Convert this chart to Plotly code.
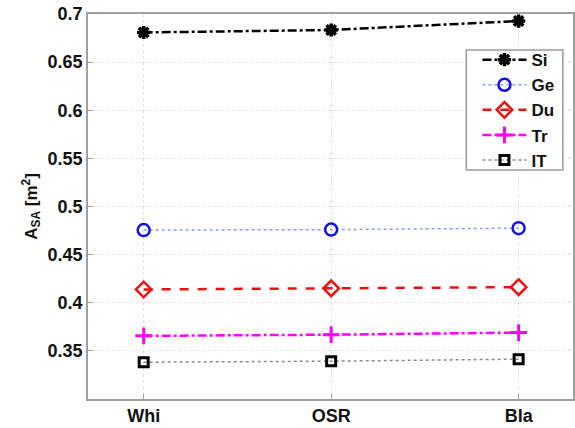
import plotly.graph_objects as go

categories = ["Whi", "OSR", "Bla"]
si = [0.6808, 0.6834, 0.6927]
ge = [0.4755, 0.4760, 0.4775]
du = [0.4138, 0.4150, 0.4162]
tr = [0.3656, 0.3668, 0.3690]
it = [0.3382, 0.3393, 0.3414]
y_ticks = [0.35, 0.4, 0.45, 0.5, 0.55, 0.6, 0.65, 0.7]

xs = [0, 1, 2]
fig = go.Figure()

def add(name, y, color, lcolor, dash, lw, symbol, msize, mlw):
    fig.add_trace(go.Scatter(
        x=xs, y=y, name=name, mode="lines+markers",
        line=dict(color=lcolor, dash=dash, width=lw),
        marker=dict(symbol=symbol, size=msize, color=color,
                    line=dict(color=color, width=mlw)),
    ))

add("Si", si, "black", "black", "dashdot", 2.5, "asterisk-open", 11, 3.5)
add("Ge", ge, "#1010ee", "#8f9cf0", "dot", 1.5, "circle-open", 12, 2.5)
add("Du", du, "#ee1010", "#ee1010", "dash", 2.5, "diamond-open", 12, 2.5)
add("Tr", tr, "#ff00ff", "#ff00ff", "dashdot", 2.5, "cross-thin-open", 12, 3)
add("IT", it, "black", "#8a8a8a", "dot", 1.5, "square-open", 9, 3)

bold = dict(family="Liberation Sans, Arial", size=18, color="#111111", weight="bold")
fig.update_layout(
    width=575, height=428,
    margin=dict(l=88, r=0, t=14, b=29),
    plot_bgcolor="white", paper_bgcolor="white",
    font=bold,
    showlegend=True,
    legend=dict(x=0.803, y=0.927, xanchor="left", yanchor="top",
                borderwidth=0, bgcolor="rgba(0,0,0,0)",
                font=dict(size=17, family="Liberation Sans, Arial", color="#111111", weight="bold"),
                tracegroupgap=0, itemwidth=44),
    shapes=[dict(type="rect", xref="paper", yref="paper",
                 x0=0.780, x1=0.979, y0=0.595, y1=0.9065,
                 line=dict(color="#9a9a9a", width=1.5), fillcolor="white", layer="above")],
)
fig.update_xaxes(
    range=[-0.297, 2.29], tickmode="array", tickvals=xs,
    ticktext=["<b>%s</b>" % c for c in categories],
    tickfont=bold,
    showgrid=True, gridcolor="#e0e0e0", griddash="dot", gridwidth=1,
    showline=True, linecolor="#a0a0a0", linewidth=1.5, mirror=True,
    ticks="inside", ticklen=5, tickcolor="#a0a0a0", zeroline=False,
)
fig.update_yaxes(
    range=[0.3, 0.7], tickmode="array", tickvals=y_ticks,
    ticktext=["<b>%g</b>" % v for v in y_ticks], tickfont=bold,
    showgrid=True, gridcolor="#e0e0e0", griddash="dot", gridwidth=1,
    showline=True, linecolor="#a0a0a0", linewidth=1.5, mirror=True,
    ticks="inside", ticklen=5, tickcolor="#a0a0a0", zeroline=False,
    title=dict(text="<b>A<sub>SA</sub> [m<sup>2</sup>]</b>", standoff=6,
               font=dict(size=17, family="Liberation Sans, Arial", color="#111111", weight="bold")),
)
fig.write_html("out.html")
